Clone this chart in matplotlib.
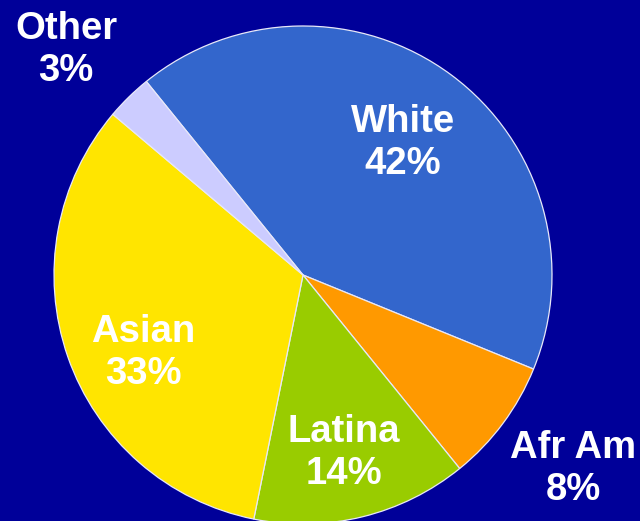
import matplotlib
matplotlib.use("Agg")
import matplotlib.pyplot as plt

labels = ["White", "Afr Am", "Latina", "Asian", "Other"]
values = [42, 8, 14, 33, 3]
colors = ["#3366CC", "#FF9900", "#99CC00", "#FFE500", "#CCCCFF"]
label_px = [(403, 143), (573, 469), (344, 453), (143, 353), (66, 50)]

W, H = 640, 521
cx, cy, R = 303, 275, 249

fig = plt.figure(figsize=(W / 100, H / 100), dpi=100, facecolor="#000099")
ax = fig.add_axes([0, 0, 1, 1])
ax.set_facecolor("#000099")
ax.pie(values, colors=colors, startangle=129, counterclock=False,
       wedgeprops=dict(edgecolor="#E8E8F8", linewidth=0.9))
ax.set_xlim(-cx / R, (W - cx) / R)
ax.set_ylim(-(H - cy) / R, cy / R)
ax.set_aspect("equal")
ax.axis("off")

for lab, v, (px, py) in zip(labels, values, label_px):
    ax.text((px - cx) / R, (cy - py) / R, f"{lab}\n{v}%", ha="center", va="center",
            color="white", fontsize=27.5, fontweight="bold",
            family=["Liberation Sans", "DejaVu Sans"], linespacing=1.2)

fig.savefig("out.png", dpi=100, facecolor=fig.get_facecolor())
